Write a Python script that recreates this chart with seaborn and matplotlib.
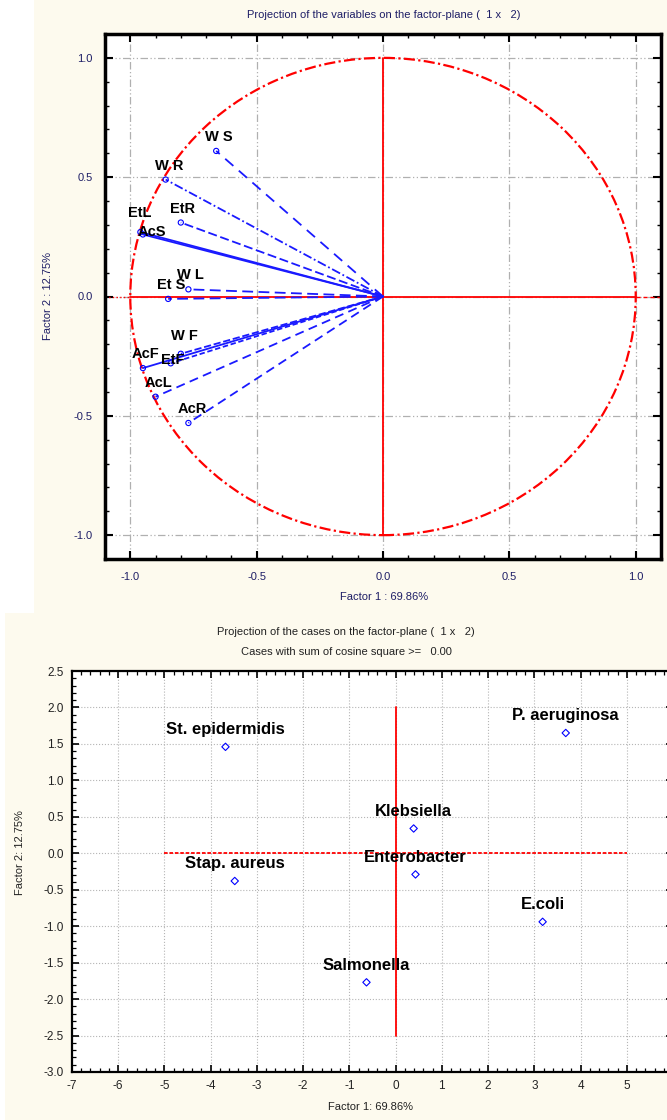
import matplotlib
matplotlib.use("Agg")
import matplotlib.pyplot as plt
import seaborn as sns
import pandas as pd
from matplotlib.patches import Circle, Rectangle
from matplotlib.ticker import MultipleLocator, FormatStrFormatter

# Variables: loadings on factor 1 / factor 2
var_names = ["W S", "W R", "EtR", "EtL", "AcS", "W L", "Et S", "AcF", "W F", "EtF", "AcL", "AcR"]
var_f1 = [-0.66, -0.86, -0.80, -0.96, -0.95, -0.77, -0.85, -0.95, -0.80, -0.84, -0.90, -0.77]
var_f2 = [0.61, 0.49, 0.31, 0.27, 0.26, 0.03, -0.01, -0.30, -0.24, -0.28, -0.42, -0.53]

# Cases: scores on factor 1 / factor 2
case_names = ["St. epidermidis", "P. aeruginosa", "Klebsiella", "Enterobacter",
              "Stap. aureus", "E.coli", "Salmonella"]
case_f1 = [-3.68, 3.68, 0.39, 0.43, -3.48, 3.18, -0.63]
case_f2 = [1.46, 1.65, 0.34, -0.29, -0.38, -0.94, -1.77]

x_label = "Factor 1 : 69.86%"
y_label = "Factor 2 : 12.75%"

df_var = pd.DataFrame({"name": var_names, "f1": var_f1, "f2": var_f2})
df_case = pd.DataFrame({"name": case_names, "f1": case_f1, "f2": case_f2})

sns.set_style("ticks")
plt.rcParams["font.family"] = ["Liberation Sans", "DejaVu Sans"]
plt.rcParams["axes.unicode_minus"] = False

W, H = 667, 1120
fig = plt.figure(figsize=(W / 100, H / 100), dpi=100, facecolor="white")
cream = "#fdfaee"
fig.patches.append(Rectangle((34 / W, 1 - 613 / H), 1, 613 / H, transform=fig.transFigure,
                             facecolor=cream, edgecolor="none", zorder=-5))
fig.patches.append(Rectangle((5 / W, 0), 1, 1 - 613 / H, transform=fig.transFigure,
                             facecolor=cream, edgecolor="none", zorder=-5))

navy = "#1e1e66"
bold_narrow = ["Liberation Sans Narrow", "Liberation Sans", "DejaVu Sans"]

# ---------------- top: correlation circle ----------------
ax1 = fig.add_axes([105 / W, 1 - 559 / H, 556 / W, 525 / H])
ax1.set_facecolor("white")
ax1.set_xlim(-1.1, 1.1)
ax1.set_ylim(-1.1, 1.1)
ax1.xaxis.set_major_locator(MultipleLocator(0.5))
ax1.yaxis.set_major_locator(MultipleLocator(0.5))
ax1.xaxis.set_minor_locator(MultipleLocator(0.1))
ax1.yaxis.set_minor_locator(MultipleLocator(0.1))
ax1.xaxis.set_major_formatter(FormatStrFormatter("%.1f"))
ax1.yaxis.set_major_formatter(FormatStrFormatter("%.1f"))
ax1.tick_params(which="both", direction="in", top=True, right=True, color="black")
ax1.tick_params(which="major", length=6, width=1.5, labelsize=8, labelcolor=navy, pad=9)
ax1.tick_params(which="minor", length=3, width=1)
ax1.grid(True, which="major", color="#b0b0b0", linewidth=0.9, linestyle=(0, (6, 2, 1, 2, 1, 2)))
for s in ax1.spines.values():
    s.set_color("black")
    s.set_linewidth(2.5)

ax1.add_patch(Circle((0, 0), 1.0, fill=False, edgecolor="red", linewidth=1.6,
                     linestyle=(0, (5, 1.5, 1, 1.5)), zorder=2))
ax1.plot([-1, 1], [0, 0], color="red", linewidth=1.3, zorder=2)
ax1.plot([-1.1, -1], [0, 0], color="red", linewidth=1.0, linestyle=":", zorder=2)
ax1.plot([1, 1.1], [0, 0], color="red", linewidth=1.0, linestyle=(0, (3, 2)), zorder=2)
ax1.plot([0, 0], [-1, 1], color="red", linewidth=1.3, zorder=2)

styles = {"W S": (0, (6, 4)), "W R": (0, (5, 1.5, 1, 1.5)), "EtR": (0, (5, 2)),
          "EtL": "-", "AcS": "-", "W L": (0, (6, 3)), "Et S": (0, (6, 3)),
          "AcF": "-", "W F": (0, (4, 1.5)), "EtF": (0, (3, 1.5)),
          "AcL": (0, (5, 3)), "AcR": (0, (5, 3))}
# label offsets (points) where the default would collide
offsets = {"EtL": (-9, 9), "AcS": (-4, -3), "W F": (-7, 8), "EtF": (-7, -3)}
for _, r in df_var.iterrows():
    ax1.plot([0, r.f1], [0, r.f2], color="#1a1aff", linewidth=1.3,
             linestyle=styles[r["name"]], zorder=3)
sns.scatterplot(data=df_var, x="f1", y="f2", ax=ax1, marker="o", s=14,
                color="blue", linewidth=0.8, zorder=4, legend=False)
ax1.collections[-1].set_facecolor("none")
ax1.collections[-1].set_edgecolor("blue")
for _, r in df_var.iterrows():
    ax1.annotate(r["name"], (r.f1, r.f2), xytext=offsets.get(r["name"], (-8, 5)),
                 textcoords="offset points", ha="left", va="bottom", fontsize=10.5,
                 fontweight="bold", family=bold_narrow, color="black", zorder=5)
ax1.set_xlabel("")
ax1.set_ylabel("")

fig.text(384 / W, 1 - 15 / H, "Projection of the variables on the factor-plane (  1 x   2)",
         ha="center", va="center", fontsize=8, color=navy)
fig.text(384 / W, 1 - 597 / H, x_label, ha="center", va="center", fontsize=8, color=navy)
fig.text(48 / W, 1 - 296 / H, y_label, ha="center", va="center", fontsize=8,
         color=navy, rotation=90)

# ---------------- bottom: cases ----------------
ax2 = fig.add_axes([72 / W, 1 - 1072 / H, 601 / W, 401 / H])
ax2.set_facecolor("white")
ax2.set_xlim(-7, 6)
ax2.set_ylim(-3.0, 2.5)
ax2.set_xticks(range(-7, 6))
ax2.xaxis.set_minor_locator(MultipleLocator(0.2))
ax2.yaxis.set_major_locator(MultipleLocator(0.5))
ax2.yaxis.set_minor_locator(MultipleLocator(0.1))
ax2.yaxis.set_major_formatter(FormatStrFormatter("%.1f"))
ax2.tick_params(which="both", direction="in", top=True, right=True, color="black")
ax2.tick_params(which="major", length=5, width=1.2, labelsize=8.5, labelcolor="#222222", pad=6)
ax2.tick_params(which="minor", length=3, width=0.9)
ax2.grid(True, which="major", color="#b5b5b5", linewidth=0.8, linestyle=":")
for s in ax2.spines.values():
    s.set_color("black")
    s.set_linewidth(1.6)

ax2.plot([0, 0], [-2.5, 2.0], color="red", linewidth=1.3, zorder=2)
ax2.plot([-5, 5], [0, 0], color="red", linewidth=1.3, linestyle=(0, (2, 1)), zorder=2)

sns.scatterplot(data=df_case, x="f1", y="f2", ax=ax2, marker="D", s=14,
                color="blue", linewidth=0.8, zorder=4, legend=False)
ax2.collections[-1].set_facecolor("none")
ax2.collections[-1].set_edgecolor("blue")
for _, r in df_case.iterrows():
    ax2.annotate(r["name"], (r.f1, r.f2), xytext=(0, 7), textcoords="offset points",
                 ha="center", va="bottom", fontsize=12, fontweight="bold",
                 family=bold_narrow, color="black", zorder=5)
ax2.set_xlabel("")
ax2.set_ylabel("")

fig.text(346 / W, 1 - 632 / H, "Projection of the cases on the factor-plane (  1 x   2)",
         ha="center", va="center", fontsize=8, color="#222222")
fig.text(346 / W, 1 - 652 / H, "Cases with sum of cosine square >=   0.00",
         ha="center", va="center", fontsize=8, color="#222222")
fig.text(370 / W, 1 - 1107 / H, "Factor 1: 69.86%", ha="center", va="center",
         fontsize=8, color="#222222")
fig.text(20 / W, 1 - 853 / H, "Factor 2: 12.75%", ha="center", va="center",
         fontsize=8, color="#222222", rotation=90)

fig.savefig("out.png", dpi=100)
